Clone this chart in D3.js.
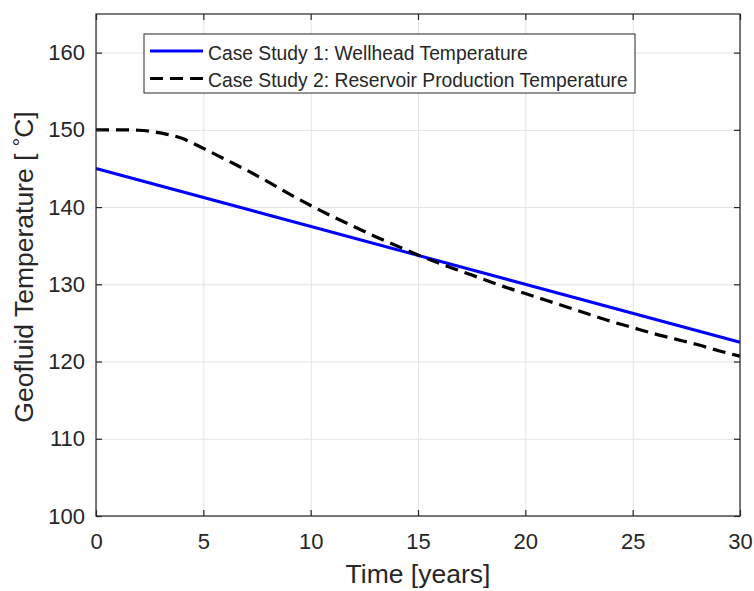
<!DOCTYPE html>
<html>
  <head>
    <meta charset="UTF-8" />
    <script src="https://d3js.org/d3.v7.min.js"></script>
    <style>
      body { margin: 0; background: #fff; }
      text { font-family: "Liberation Sans", Arial, Helvetica, sans-serif; fill: #262626; }
    </style>
  </head>
  <body>
    <svg width="754" height="591"></svg>

    <script>
      // case study 1: straight line, end points
      const case1Years = [0, 30];
      const case1Temp = [145, 122.5];

      // case study 2: read at every year
      const case2Years = [0, 1, 2, 3, 4, 5, 6, 7, 8, 9, 10, 11, 12, 13, 14, 15,
        16, 17, 18, 19, 20, 21, 22, 23, 24, 25, 26, 27, 28, 29, 30];
      const case2Temp = [150.0, 150.0, 149.95, 149.6, 148.9, 147.6, 146.2, 144.8,
        143.3, 141.7, 140.2, 138.8, 137.5, 136.2, 135.0, 133.8, 132.7, 131.7,
        130.7, 129.7, 128.8, 127.9, 127.0, 126.1, 125.2, 124.4, 123.6, 122.9,
        122.2, 121.4, 120.7];

      const xTicks = [0, 5, 10, 15, 20, 25, 30];
      const yTicks = [100, 110, 120, 130, 140, 150, 160];
      const legendLabels = [
        "Case Study 1: Wellhead Temperature",
        "Case Study 2: Reservoir Production Temperature"
      ];

      const pLeft = 96, pRight = 740, pTop = 14, pBottom = 516;
      const ink = "#262626";

      var svg = d3.select("svg");

      const x = d3.scaleLinear().domain([0, 30]).range([pLeft, pRight]);
      const y = d3.scaleLinear().domain([100, 165]).range([pBottom, pTop]);

      // grid
      const gx = svg.append("g").attr("transform", "translate(0," + pBottom + ")")
        .call(d3.axisBottom(x).tickValues(xTicks).tickSize(-(pBottom - pTop)).tickFormat(""));
      const gy = svg.append("g").attr("transform", "translate(" + pLeft + ",0)")
        .call(d3.axisLeft(y).tickValues(yTicks).tickSize(-(pRight - pLeft)).tickFormat(""));
      [gx, gy].forEach(function (g) {
        g.select(".domain").remove();
        g.selectAll("line").attr("stroke", "#e3e3e3").attr("stroke-width", 1);
      });

      // lines
      const line = d3.line()
        .x(function (d) { return x(d[0]); })
        .y(function (d) { return y(d[1]); });

      svg.append("path")
        .datum(d3.zip(case1Years, case1Temp))
        .attr("fill", "none")
        .attr("stroke", "#0000ff")
        .attr("stroke-width", 3)
        .attr("d", line);

      svg.append("path")
        .datum(d3.zip(case2Years, case2Temp))
        .attr("fill", "none")
        .attr("stroke", "#000")
        .attr("stroke-width", 3.2)
        .attr("stroke-dasharray", "13,7")
        .attr("d", line.curve(d3.curveMonotoneX));

      // axes, ticks pointing inward
      const xAxisSVG = svg.append("g").attr("transform", "translate(0," + pBottom + ")")
        .call(d3.axisBottom(x).tickValues(xTicks).tickSize(-6).tickPadding(17));
      const yAxisSVG = svg.append("g").attr("transform", "translate(" + pLeft + ",0)")
        .call(d3.axisLeft(y).tickValues(yTicks).tickSize(-6).tickPadding(11));
      const topAxis = svg.append("g").attr("transform", "translate(0," + pTop + ")")
        .call(d3.axisTop(x).tickValues(xTicks).tickSize(-6).tickFormat(""));
      const rightAxis = svg.append("g").attr("transform", "translate(" + pRight + ",0)")
        .call(d3.axisRight(y).tickValues(yTicks).tickSize(-6).tickFormat(""));

      [xAxisSVG, yAxisSVG, topAxis, rightAxis].forEach(function (g) {
        g.select(".domain").remove();
        g.selectAll("line").attr("stroke", ink).attr("stroke-width", 1.2);
        g.selectAll("text").attr("fill", ink).style("font-size", "22px")
          .style("font-family", "'Liberation Sans', Arial, sans-serif");
      });

      svg.append("rect")
        .attr("x", pLeft).attr("y", pTop)
        .attr("width", pRight - pLeft).attr("height", pBottom - pTop)
        .attr("fill", "none").attr("stroke", ink).attr("stroke-width", 1.2);

      // axis labels
      svg.append("text")
        .attr("x", (pLeft + pRight) / 2).attr("y", 583)
        .attr("text-anchor", "middle")
        .style("font-size", "26.5px")
        .text("Time [years]");

      const yl = svg.append("text")
        .attr("transform", "translate(33," + (pTop + pBottom + 4) / 2 + ") rotate(-90)")
        .attr("text-anchor", "middle")
        .style("font-size", "26.5px");
      yl.append("tspan").text("Geofluid Temperature [ ");
      yl.append("tspan").attr("dy", -5).style("font-size", "21px").text("°");
      yl.append("tspan").attr("dy", 5).text("C]");

      // legend
      const lg = svg.append("g");
      lg.append("rect")
        .attr("x", 144).attr("y", 34).attr("width", 491).attr("height", 59)
        .attr("fill", "#fff").attr("stroke", ink).attr("stroke-width", 1);
      const rowsY = [51, 78.5];
      lg.append("line")
        .attr("x1", 150).attr("x2", 203).attr("y1", rowsY[0]).attr("y2", rowsY[0])
        .attr("stroke", "#0000ff").attr("stroke-width", 3);
      lg.append("line")
        .attr("x1", 150).attr("x2", 203).attr("y1", rowsY[1]).attr("y2", rowsY[1])
        .attr("stroke", "#000").attr("stroke-width", 3.2).attr("stroke-dasharray", "13,7");
      lg.selectAll("text.lab")
        .data(legendLabels)
        .enter()
        .append("text")
        .attr("class", "lab")
        .attr("x", 208)
        .attr("y", function (d, i) { return rowsY[i] + 8.5; })
        .style("font-size", "19.3px")
        .text(function (d) { return d; });
    </script>
  </body>
</html>
